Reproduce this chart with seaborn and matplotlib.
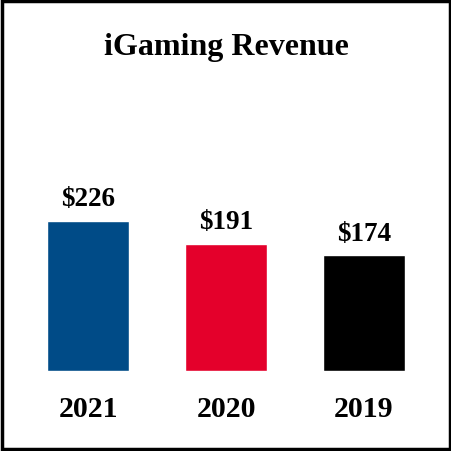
import pandas as pd
import seaborn as sns
import matplotlib.pyplot as plt
from matplotlib.patches import Rectangle

# Data
years = ['2021', '2020', '2019']
revenue = [226, 191, 174]
bar_colors = ['#004B87', '#E4002B', '#000000']
title = 'iGaming Revenue'

df = pd.DataFrame({'Year': years, 'Revenue': revenue})

sns.set_theme(style='white')
plt.rcParams['font.family'] = ['Liberation Serif', 'DejaVu Serif']
plt.rcParams['font.weight'] = 'bold'
plt.rcParams['text.color'] = 'black'
plt.rcParams['xtick.color'] = 'black'

fig = plt.figure(figsize=(4.52, 4.52), dpi=100)
ax = fig.add_axes([0, 80 / 452, 1, 372 / 452])

sns.barplot(data=df, x='Year', y='Revenue', hue='Year', order=years,
            palette=dict(zip(years, bar_colors)), width=0.6,
            saturation=1, legend=False, ax=ax)

ax.set_xlim(-0.638, 2.638)
ax.set_ylim(0, 560)
for c in ax.containers:
    ax.bar_label(c, labels=[f'${v:.0f}' for v in c.datavalues],
                 padding=7, fontsize=19.5, fontweight='bold', color='black')

ax.set_xlabel('')
ax.set_ylabel('')
ax.set_yticks([])
ax.tick_params(axis='x', length=0, pad=17, labelsize=21.5, labelcolor='black')
for lbl in ax.get_xticklabels():
    lbl.set_fontweight('bold')
sns.despine(ax=ax, left=True, bottom=True)

fig.text(0.5, 1 - 47 / 452, title, ha='center', va='center',
         fontsize=23, fontweight='bold', color='black')

# black frame around the whole picture
fig.patches.append(Rectangle((0.004, 0.004), 0.992, 0.992, transform=fig.transFigure,
                             fill=False, edgecolor='black', linewidth=2.5))

fig.savefig('out.png', dpi=100)
